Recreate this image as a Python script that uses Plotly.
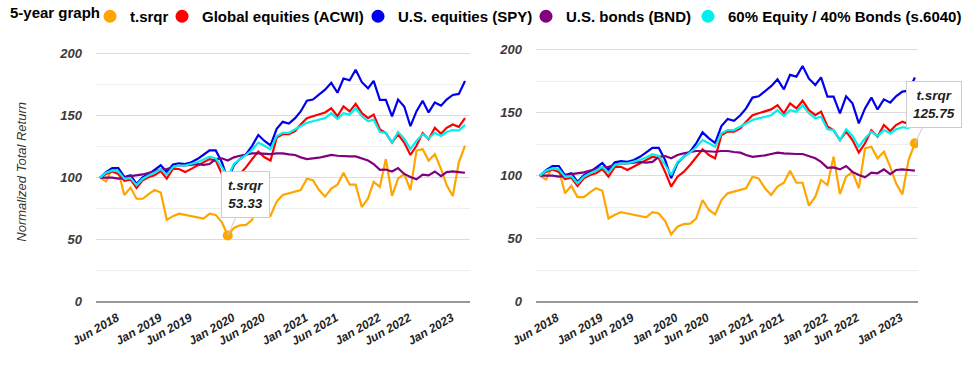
import pandas as pd
import plotly.graph_objects as go

dates = pd.date_range("2018-06-01", periods=61, freq="MS")

tsrqr = [100, 97, 107, 105, 86, 92, 83, 83, 87, 90, 88, 66, 69, 71, 70, 69, 68, 67, 71, 70,
         64, 53.33, 59.5, 61.6, 62, 66, 80.7, 72.8, 69.3, 80.7, 86, 87.3, 88.6, 90, 99.2, 97.9,
         90, 84.7, 91.3, 94.4, 104, 94.4, 94.4, 76.2, 83.3, 96.6, 92.6, 115, 85.4, 99.2, 103,
         90, 121.7, 123, 113.8, 119, 107, 94, 85.2, 112.4, 125.75]
acwi = [100, 103, 105, 103, 97.4, 98.4, 91.8, 98, 100.5, 102, 105.3, 99.2, 107, 107, 104.5,
        107, 110, 112.4, 115, 113.8, 103, 91.3, 99.2, 103, 108.5, 115, 121, 116.4, 113.8,
        132.3, 135, 135, 137.6, 142.9, 148, 149.5, 151.3, 152.6, 156, 149.5, 157.4, 153.4,
        159.5, 152, 148, 150.8, 139, 136, 128.3, 135, 128.3, 118.3, 125.7, 136, 131, 140.2,
        135.4, 140.2, 142.9, 141, 148]
spy = [100, 104.5, 107.7, 107.7, 100.5, 102, 95, 100.5, 103, 106, 110, 104.5, 110.6, 111.6,
       111, 112.4, 115, 118.5, 122, 122, 112.4, 98, 110, 115, 119, 125.7, 134.4, 129.6, 126,
       139.4, 145, 143.6, 148, 153.4, 162, 163, 166.7, 171, 176.5, 168.5, 180, 178.6, 187,
       177, 172, 178, 162.7, 162.7, 149.5, 163, 157.4, 141.5, 153.4, 162, 152.6, 160.6, 158,
       163, 166.7, 167.5, 178]
bnd = [100, 100, 100, 99.2, 99.7, 101.3, 101.9, 102.6, 104, 105, 106.6, 107, 108.5, 109.8,
       109.8, 110.6, 111, 110.3, 111, 115, 115.6, 113.8, 116.4, 117.7, 118.8, 119.6, 119.6,
       119, 119, 119.6, 119.6, 118.8, 118.3, 116.4, 115, 115.6, 116.1, 117.2, 118.3, 117.7,
       117.2, 117.2, 117.2, 115.6, 113.8, 111, 106.3, 106.6, 105, 107.7, 103, 100.5, 98.7,
       102.4, 101.9, 105, 101.3, 104.5, 105, 104.5, 104]
s6040 = [100, 104, 105.8, 105, 99.2, 99.7, 94, 99.2, 101.9, 104, 107, 102.4, 108.5, 109.8,
         109.8, 111, 112.4, 114.6, 117, 115.6, 108.5, 100.5, 111, 115, 118.3, 122.5, 128.3,
         125.7, 123, 133.6, 136.2, 136.2, 138.9, 141.5, 144.2, 145.5, 146.8, 148, 152, 147.4,
         152, 150.8, 156, 149.5, 145.5, 146.8, 136.8, 136.2, 128.3, 136.8, 131.5, 123, 129.6,
         135, 131.5, 136.2, 133.6, 136.8, 138.4, 138, 142.6]

series_names = ["t.srqr", "Global equities (ACWI)", "U.S. equities (SPY)",
                "U.S. bonds (BND)", "60% Equity / 40% Bonds (s.6040)"]
series_values = [tsrqr, acwi, spy, bnd, s6040]
series_colors = ["#FFA500", "#FF0000", "#0000EE", "#800080", "#00F0F0"]

tick_dates = ["2018-06-01", "2019-01-01", "2019-06-01", "2020-01-01", "2020-06-01",
              "2021-01-01", "2021-06-01", "2022-01-01", "2022-06-01", "2023-01-01"]
tick_labels = ["Jun 2018", "Jan 2019", "Jun 2019", "Jan 2020", "Jun 2020",
               "Jan 2021", "Jun 2021", "Jan 2022", "Jun 2022", "Jan 2023"]
y_ticks = [0, 50, 100, 150, 200]

left_idx = 21   # tooltip point on the left chart
right_idx = 60  # tooltip point on the right chart

W, H = 967, 370
FONT = "Liberation Sans, Arial, sans-serif"

# legend entry left edges (px)
legend_x = [90, 162, 358, 526]

fig = go.Figure()

for panel, (xa, ya) in enumerate([("x", "y"), ("x2", "y2")]):
    for name, vals, col in zip(series_names, series_values, series_colors):
        fig.add_trace(go.Scatter(x=dates, y=vals, mode="lines", name=name,
                                 line=dict(color=col, width=2.2),
                                 showlegend=False, hoverinfo="skip",
                                 xaxis=xa, yaxis=ya))

fig.add_trace(go.Scatter(x=[dates[left_idx]], y=[tsrqr[left_idx]], mode="markers",
                         marker=dict(color="#FFA500", size=10), showlegend=False,
                         hoverinfo="skip", xaxis="x", yaxis="y"))
fig.add_trace(go.Scatter(x=[dates[right_idx]], y=[tsrqr[right_idx]], mode="markers",
                         marker=dict(color="#FFA500", size=10), showlegend=False,
                         hoverinfo="skip", xaxis="x2", yaxis="y2"))

def px_x(p):
    return p / W

def px_y(p):
    return (H - p) / H

legend_font = dict(family=FONT, size=15, color="#000", weight="bold")
legend_layouts = {}
for i, (name, col) in enumerate(zip(series_names, series_colors)):
    lname = "legend" if i == 0 else f"legend{i + 1}"
    fig.add_trace(go.Scatter(x=[None], y=[None], mode="markers", name=name,
                             marker=dict(color=col, size=13), showlegend=True,
                             legend=lname, xaxis="x", yaxis="y"))
    if i < 4:
        pos = dict(x=px_x(legend_x[i]), xanchor="left")
    else:
        pos = dict(x=1.0, xanchor="right")
    legend_layouts[lname] = dict(orientation="h", y=1.0, yanchor="top", font=legend_font,
                                 itemwidth=30, bgcolor="rgba(0,0,0,0)", borderwidth=0, **pos)

xcommon = dict(type="date", tickvals=tick_dates, ticktext=tick_labels, tickangle=-30,
               showgrid=False, zeroline=False, showline=False, ticks="", automargin=False,
               tickfont=dict(family=FONT, size=12, color="#222", weight="bold", style="italic"),
               ticklabelshift=17, ticklabelstandoff=6, fixedrange=True)
ycommon = dict(tickvals=y_ticks, showgrid=True, gridcolor="#dcdcdc", gridwidth=1,
               zeroline=True, zerolinecolor="#999999", zerolinewidth=2, showline=False,
               ticks="", ticklabelstandoff=13, automargin=False,
               minor=dict(dtick=25, tick0=0, showgrid=True, gridcolor="#eeeeee", gridwidth=1),
               tickfont=dict(family=FONT, size=13, color="#3a3a3a", weight="bold", style="italic"),
               fixedrange=True)

fig.update_layout(
    width=W, height=H,
    margin=dict(l=0, r=0, t=0, b=0, autoexpand=False),
    paper_bgcolor="white", plot_bgcolor="white",
    hovermode=False,
    xaxis=dict(domain=[px_x(96), px_x(470)], range=["2018-05-12", "2023-06-26"],
               anchor="y", **xcommon),
    xaxis2=dict(domain=[px_x(536), px_x(918)], range=["2018-05-13", "2023-06-16"],
                anchor="y2", **xcommon),
    yaxis=dict(domain=[px_y(301.7), px_y(42)], range=[0, 209.4], anchor="x",
               title=dict(text="Normalized Total Return", standoff=29,
                          font=dict(family=FONT, size=13, color="#333", style="italic")),
               **ycommon),
    yaxis2=dict(domain=[px_y(301.7), px_y(42)], range=[0, 206.1], anchor="x2", **ycommon),
    **legend_layouts,
)

fig.add_annotation(x=0.0, y=1.0, xref="paper", yref="paper", xanchor="left",
                   yanchor="top", xshift=8, yshift=-2, showarrow=False, text="5-year graph",
                   font=legend_font)

tip_font = dict(family=FONT, size=13.5, color="#222", weight="bold", style="italic")
fig.add_annotation(x=dates[left_idx], y=tsrqr[left_idx], xref="x", yref="y",
                   text=f"t.srqr<br>{tsrqr[left_idx]:.2f}", font=tip_font,
                   showarrow=True, arrowhead=0, arrowcolor="#cccccc", arrowwidth=1,
                   ax=18, ay=-41, bgcolor="white", bordercolor="#cccccc",
                   borderwidth=1, borderpad=6, align="center")
fig.add_annotation(x=dates[right_idx], y=tsrqr[right_idx], xref="x2", yref="y2",
                   text=f"t.srqr<br>{tsrqr[right_idx]:.2f}", font=tip_font,
                   showarrow=True, arrowhead=0, arrowcolor="#cccccc", arrowwidth=1,
                   ax=19, ay=-39, bgcolor="white", bordercolor="#cccccc",
                   borderwidth=1, borderpad=6, align="center")

fig.write_html("out.html", config={"displayModeBar": False, "staticPlot": True},
               post_script="document.body.style.margin='0px';")
